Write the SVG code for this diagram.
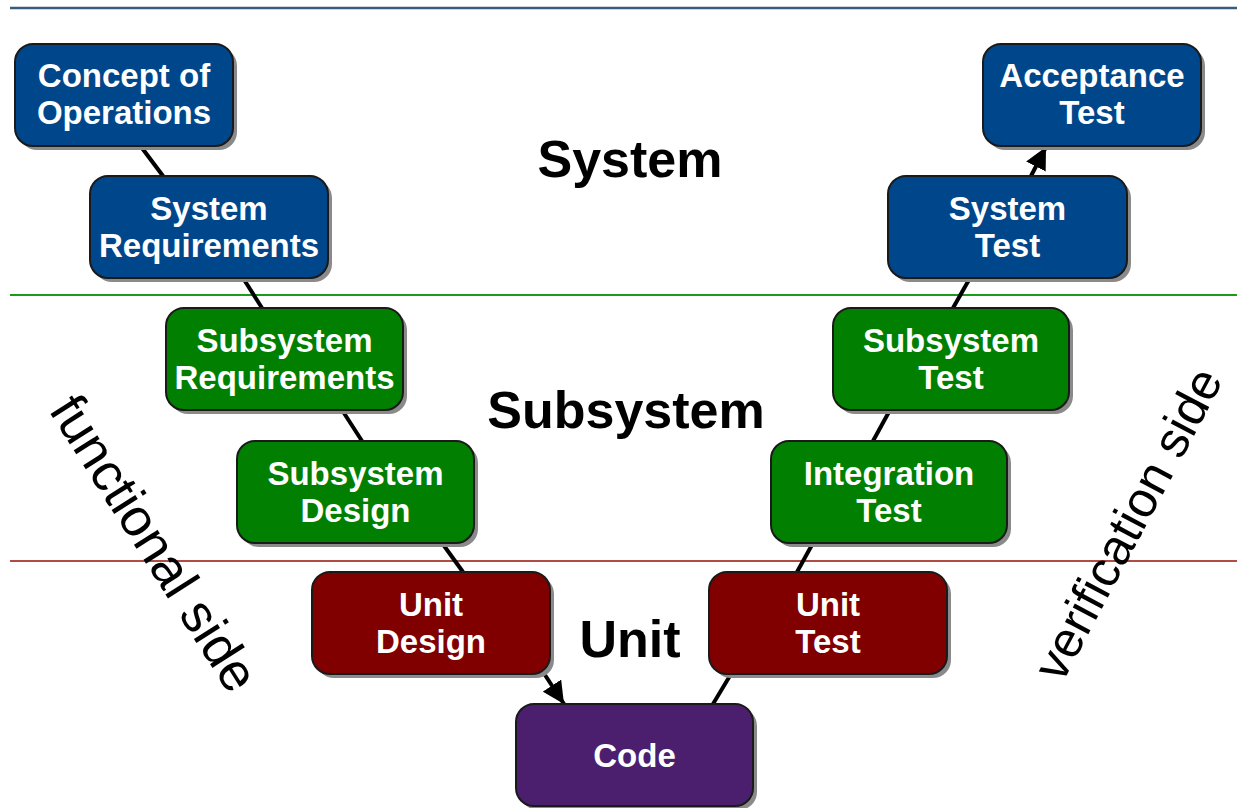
<svg xmlns="http://www.w3.org/2000/svg" width="1237" height="808" viewBox="0 0 1237 808">
<style>
.sh{fill:#8a8a8a}
.bx{stroke:#1a1a1a;stroke-width:2}
.blue{fill:#00468a}
.green{fill:#007f00}
.red{fill:#800000}
.purple{fill:#4b1f6e}
.t{font-family:"Liberation Sans",Arial,sans-serif;font-weight:bold;font-size:33px;fill:#ffffff;text-anchor:middle}
.big{font-family:"Liberation Sans",Arial,sans-serif;font-weight:bold;font-size:52px;fill:#000000;text-anchor:middle}
.side{font-family:"Liberation Sans",Arial,sans-serif;fill:#000000}
.c{stroke:#000000;stroke-width:4;fill:none}
</style>
<defs>
<marker id="ah" viewBox="0 0 10 10" refX="10" refY="5" markerWidth="5.5" markerHeight="5.5" orient="auto">
<path d="M0,0 L10,5 L0,10 z" fill="#000000"/>
</marker>
</defs>
<rect width="1237" height="808" fill="#ffffff"/>
<g id="bands">
<line x1="10" y1="8" x2="1237" y2="8" stroke="#3b5a7e" stroke-width="2.5"/>
<line x1="10" y1="295" x2="1237" y2="295" stroke="#1c9a1c" stroke-width="2"/>
<line x1="10" y1="561" x2="1237" y2="561" stroke="#b04c44" stroke-width="2"/>
</g>
<g id="connectors">
<line class="c" x1="142" y1="148" x2="163" y2="176"/>
<line class="c" x1="243" y1="278" x2="262" y2="308"/>
<line class="c" x1="342" y1="410" x2="362" y2="441"/>
<line class="c" x1="442" y1="543" x2="463" y2="572"/>
<line class="c" x1="545" y1="675" x2="564" y2="704" marker-end="url(#ah)"/>
<line class="c" x1="713" y1="704" x2="731" y2="674"/>
<line class="c" x1="797" y1="572" x2="813" y2="543"/>
<line class="c" x1="873" y1="441" x2="890" y2="410"/>
<line class="c" x1="953" y1="308" x2="970" y2="278"/>
<line class="c" x1="1031" y1="176" x2="1046" y2="147" marker-end="url(#ah)"/>
</g>
<g id="concept">
<rect class="sh" x="19" y="48" width="218" height="102" rx="18"/>
<rect class="bx blue" x="15" y="44" width="218" height="102" rx="18"/>
<text class="t" x="124" y="87">Concept of</text>
<text class="t" x="124" y="124">Operations</text>
</g>
<g id="sysreq">
<rect class="sh" x="94" y="180" width="238" height="102" rx="18"/>
<rect class="bx blue" x="90" y="176" width="238" height="102" rx="18"/>
<text class="t" x="209" y="220">System</text>
<text class="t" x="209" y="257">Requirements</text>
</g>
<g id="subreq">
<rect class="sh" x="170" y="312" width="237" height="102" rx="18"/>
<rect class="bx green" x="166" y="308" width="237" height="102" rx="18"/>
<text class="t" x="284.5" y="352">Subsystem</text>
<text class="t" x="284.5" y="389">Requirements</text>
</g>
<g id="subdes">
<rect class="sh" x="241" y="445" width="237" height="102" rx="18"/>
<rect class="bx green" x="237" y="441" width="237" height="102" rx="18"/>
<text class="t" x="355.5" y="485">Subsystem</text>
<text class="t" x="355.5" y="522">Design</text>
</g>
<g id="unitdes">
<rect class="sh" x="316" y="576" width="238" height="102" rx="18"/>
<rect class="bx red" x="312" y="572" width="238" height="102" rx="18"/>
<text class="t" x="431" y="616">Unit</text>
<text class="t" x="431" y="653">Design</text>
</g>
<g id="code">
<rect class="sh" x="520" y="708" width="237" height="102" rx="18"/>
<rect class="bx purple" x="516" y="704" width="237" height="102" rx="18"/>
<text class="t" x="634.5" y="767">Code</text>
</g>
<g id="unittest">
<rect class="sh" x="713" y="576" width="238" height="102" rx="18"/>
<rect class="bx red" x="709" y="572" width="238" height="102" rx="18"/>
<text class="t" x="828" y="616">Unit</text>
<text class="t" x="828" y="653">Test</text>
</g>
<g id="integ">
<rect class="sh" x="775" y="445" width="236" height="102" rx="18"/>
<rect class="bx green" x="771" y="441" width="236" height="102" rx="18"/>
<text class="t" x="889" y="485">Integration</text>
<text class="t" x="889" y="522">Test</text>
</g>
<g id="subtest">
<rect class="sh" x="837" y="312" width="236" height="102" rx="18"/>
<rect class="bx green" x="833" y="308" width="236" height="102" rx="18"/>
<text class="t" x="951" y="352">Subsystem</text>
<text class="t" x="951" y="389">Test</text>
</g>
<g id="systest">
<rect class="sh" x="892" y="180" width="239" height="102" rx="18"/>
<rect class="bx blue" x="888" y="176" width="239" height="102" rx="18"/>
<text class="t" x="1007.5" y="220">System</text>
<text class="t" x="1007.5" y="257">Test</text>
</g>
<g id="accept">
<rect class="sh" x="987" y="48" width="218" height="102" rx="18"/>
<rect class="bx blue" x="983" y="44" width="218" height="102" rx="18"/>
<text class="t" x="1092" y="87">Acceptance</text>
<text class="t" x="1092" y="124">Test</text>
</g>
<g id="labels">
<text class="big" x="630" y="177">System</text>
<text class="big" x="626" y="428">Subsystem</text>
<text class="big" x="630" y="657">Unit</text>
<text class="side" font-size="53" transform="translate(48,410) rotate(57.5)">functional side</text>
<text class="side" font-size="50" transform="translate(1062,684) rotate(-62)">verification side</text>
</g>
</svg>
